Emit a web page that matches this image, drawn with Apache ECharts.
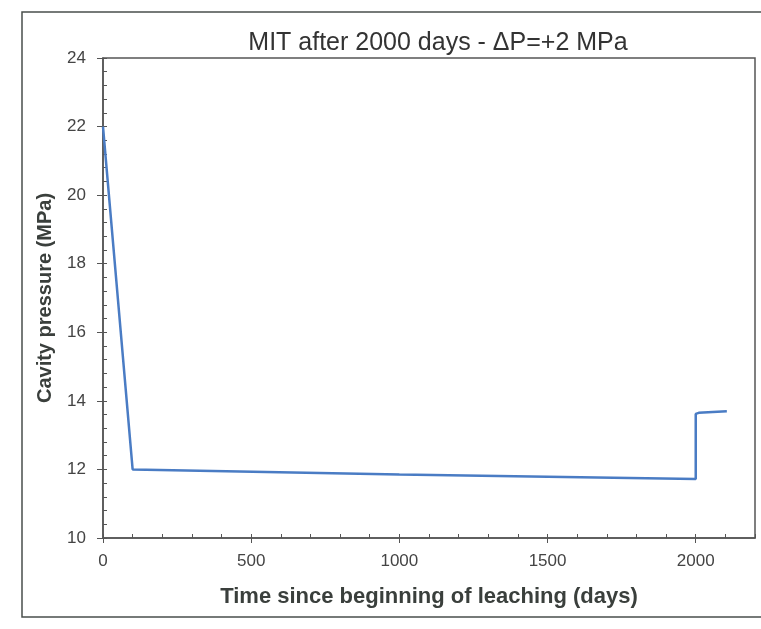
<!DOCTYPE html>
<html>
<head>
<meta charset="utf-8">
<script src="https://cdn.jsdelivr.net/npm/echarts@6/dist/echarts.min.js"></script>
<style>
  html, body { margin: 0; padding: 0; background: #fff; }
  #chart { width: 761px; height: 629px; }
</style>
</head>
<body>
<div id="chart"></div>
<script>
// days since start of leaching / cavity pressure (MPa)
const timeDays = [0, 100, 1000, 2000, 2000, 2010, 2105];
const pressure = [22.0, 12.0, 11.85, 11.72, 13.62, 13.65, 13.7];

const xTicks = { min: 0, max: 2200, major: 500, minor: 100 };
const xLabels = [0, 500, 1000, 1500, 2000];
const yTicks = { min: 10, max: 24, major: 2, minor: 0.4 };

const points = timeDays.map((t, i) => [t, pressure[i]]);

const axisColor = '#555';
const textColor = '#3a3f3c';

const chart = echarts.init(document.getElementById('chart'), null, { renderer: 'canvas' });

chart.setOption({
  backgroundColor: '#fff',
  animation: false,
  title: {
    text: 'MIT after 2000 days - ΔP=+2 MPa',
    left: 433,
    top: 26,
    textAlign: 'center',
    textStyle: {
      fontFamily: 'Liberation Sans, Arial, sans-serif',
      fontSize: 25,
      fontWeight: 'normal',
      color: '#333'
    }
  },
  // outer frame of the scanned figure
  graphic: [{
    type: 'rect',
    shape: { x: 22, y: 12, width: 760, height: 605 },
    style: { fill: null, stroke: '#4a4f4c', lineWidth: 1.5 },
    silent: true
  }],
  grid: {
    left: 103,
    right: 6,
    top: 58,
    bottom: 91,
    show: true,
    borderColor: axisColor,
    borderWidth: 1.5,
    containLabel: false
  },
  xAxis: [
    {
      type: 'value',
      min: xTicks.min,
      max: xTicks.max,
      interval: xTicks.major,
      name: 'Time since beginning of leaching (days)',
      nameLocation: 'middle',
      nameGap: 48,
      nameTextStyle: {
        fontFamily: 'Liberation Sans, Arial, sans-serif',
        fontSize: 22,
        fontWeight: 'bold',
        color: textColor
      },
      axisLine: { show: true, lineStyle: { color: axisColor, width: 1.5 } },
      axisTick: { show: true, inside: false, length: 5, customValues: xLabels, lineStyle: { color: axisColor } },
      axisLabel: {
        margin: 15,
        customValues: xLabels,
        formatter: v => String(v),
        fontFamily: 'Liberation Sans, Arial, sans-serif',
        fontSize: 17,
        color: '#444'
      },
      splitLine: { show: false }
    },
    {
      // minor ticks, drawn inwards
      type: 'value',
      position: 'bottom',
      min: xTicks.min,
      max: xTicks.max,
      interval: xTicks.minor,
      axisLine: { show: false },
      axisTick: { show: true, inside: true, length: 4, lineStyle: { color: axisColor } },
      axisLabel: { show: false },
      splitLine: { show: false }
    }
  ],
  yAxis: [
    {
      type: 'value',
      min: yTicks.min,
      max: yTicks.max,
      interval: yTicks.major,
      name: 'Cavity pressure (MPa)',
      nameLocation: 'middle',
      nameGap: 48,
      nameTextStyle: {
        fontFamily: 'Liberation Sans, Arial, sans-serif',
        fontSize: 20,
        fontWeight: 'bold',
        color: textColor
      },
      axisLine: { show: true, lineStyle: { color: axisColor, width: 1.5 } },
      axisTick: { show: true, inside: false, length: 6, lineStyle: { color: axisColor } },
      axisLabel: {
        margin: 17,
        fontFamily: 'Liberation Sans, Arial, sans-serif',
        fontSize: 17,
        color: '#444'
      },
      splitLine: { show: false }
    },
    {
      type: 'value',
      position: 'left',
      min: yTicks.min,
      max: yTicks.max,
      interval: yTicks.minor,
      axisLine: { show: false },
      axisTick: { show: true, inside: true, length: 4, lineStyle: { color: axisColor } },
      axisLabel: { show: false },
      splitLine: { show: false }
    }
  ],
  series: [{
    type: 'line',
    xAxisIndex: 0,
    yAxisIndex: 0,
    data: points,
    showSymbol: false,
    lineStyle: { color: '#4a7cc4', width: 2.5 },
    itemStyle: { color: '#4a7cc4' }
  }]
});
</script>
</body>
</html>
